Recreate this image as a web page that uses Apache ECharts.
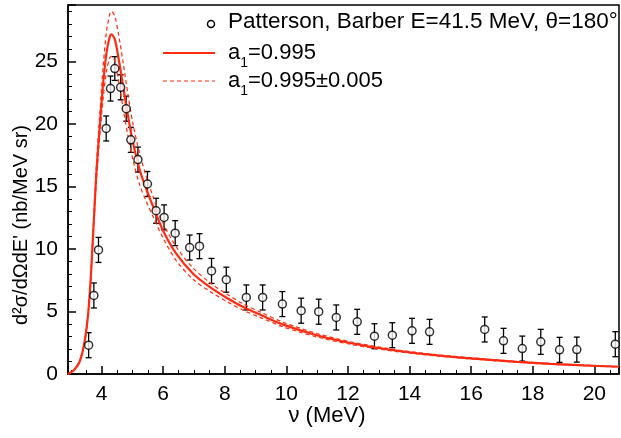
<!DOCTYPE html>
<html>
<head>
<meta charset="utf-8">
<script src="https://cdn.jsdelivr.net/npm/echarts@6/dist/echarts.min.js"></script>
<style>html,body{margin:0;padding:0;background:#fff}#c{width:621px;height:438px}</style>
</head>
<body>
<div id="c"></div>
<script>
// ---- data ----
const xTicks = [4, 6, 8, 10, 12, 14, 16, 18, 20];
const yTicks = [0, 5, 10, 15, 20, 25];

const dataX = [3.58, 3.75, 3.90, 4.15, 4.29, 4.43, 4.62, 4.80, 4.95, 5.18, 5.49, 5.77, 6.03, 6.39, 6.86, 7.18,
               7.57, 8.05, 8.70, 9.23, 9.87, 10.48, 11.05, 11.62, 12.30, 12.86, 13.44, 14.08, 14.65,
               16.44, 17.05, 17.66, 18.26, 18.87, 19.43, 20.68];
const dataY = [2.30, 6.28, 9.92, 19.63, 22.82, 24.42, 22.92, 21.21, 18.72, 17.14, 15.19, 13.05, 12.52, 11.26, 10.11, 10.22,
               8.24, 7.54, 6.12, 6.12, 5.59, 5.06, 4.98, 4.52, 4.17, 3.02, 3.10, 3.45, 3.37,
               3.56, 2.65, 2.03, 2.57, 1.93, 1.95, 2.38];
const dataErr = [1.0, 1.0, 1.0, 1.0, 1.0, 0.95, 1.0, 1.0, 1.0, 1.0, 1.0, 1.0, 1.0, 1.0, 1.0, 1.0,
                 1.0, 1.0, 1.0, 1.0, 1.0, 1.0, 1.0, 1.0, 1.0, 1.0, 1.0, 1.0, 1.0,
                 1.0, 1.0, 1.0, 1.0, 1.0, 1.0, 1.0];

const curveX = [2.91, 3.10, 3.29, 3.45, 3.56, 3.64, 3.70, 3.76, 3.83, 3.94, 4.05, 4.16, 4.27, 4.32, 4.43, 4.54,
                4.70, 4.86, 5.02, 5.24, 5.45, 5.67, 5.99, 6.43, 6.98, 7.52, 8.06, 8.60, 9.14, 9.90,
                10.99, 12.07, 13.15, 14.24, 15.32, 16.41, 17.49, 18.57, 19.66, 20.80];
const curveMid = [0, 0.3, 1.0, 2.6, 4.7, 7.3, 10.0, 12.8, 16.0, 19.8, 23.2, 25.7, 27.0, 27.15, 26.75, 25.4,
                  23.0, 20.6, 18.5, 16.3, 14.8, 13.4, 11.5, 9.6, 8.0, 6.95, 6.1, 5.35, 4.75, 3.95,
                  3.1, 2.48, 2.02, 1.66, 1.39, 1.17, 0.97, 0.81, 0.69, 0.58];
const curveUp = [0, 0.3, 1.0, 2.6, 4.7, 7.4, 10.2, 13.2, 16.6, 20.7, 24.5, 27.4, 28.8, 29.0, 28.6, 27.3,
                 24.9, 22.3, 20.0, 17.6, 15.8, 14.2, 12.1, 10.15, 8.45, 7.3, 6.4, 5.6, 4.97, 4.13,
                 3.24, 2.58, 2.1, 1.72, 1.44, 1.21, 1.0, 0.84, 0.71, 0.6];
const curveLow = [0, 0.3, 1.0, 2.6, 4.7, 7.2, 9.8, 12.4, 15.4, 19.0, 22.0, 24.2, 25.3, 25.4, 25.0, 23.6,
                  21.2, 19.0, 17.1, 15.1, 13.8, 12.6, 10.9, 9.05, 7.55, 6.6, 5.8, 5.1, 4.53, 3.77,
                  2.96, 2.38, 1.94, 1.6, 1.34, 1.13, 0.94, 0.78, 0.67, 0.56];

const legendData = 'Patterson, Barber E=41.5 MeV, θ=180°';
const legendMid = '0.995';
const legendBand = '0.995±0.005';
const xTitle = 'ν (MeV)';
const yTitle = "d²σ/dΩdE' (nb/MeV sr)";

// ---- chart ----
const FONT = "'Liberation Sans', Arial, Helvetica, sans-serif";
const RED = '#ff2a10';
const FS = 21;
const LFS = 22.5;
const chart = echarts.init(document.getElementById('c'), null, {renderer: 'canvas'});

const pts = dataX.map((x, i) => [x, dataY[i]]);
const errs = dataX.map((x, i) => [x, dataY[i] - dataErr[i], dataY[i] + dataErr[i]]);
const zip = (ys) => curveX.map((x, i) => [x, ys[i]]);

const subText = (v) => '{a|a}{s|1}{a|=' + v + '}';
const richSub = {
  a: {fontSize: 22, fontFamily: FONT, color: '#000', verticalAlign: 'middle', lineHeight: 34},
  s: {fontSize: 14, fontFamily: FONT, color: '#000', verticalAlign: 'bottom', lineHeight: 34}
};

chart.setOption({
  animation: false,
  backgroundColor: '#fff',
  grid: {left: 68, right: 2, top: 5, bottom: 64, show: true, borderColor: '#000', borderWidth: 1.5, backgroundColor: 'transparent'},
  xAxis: {
    type: 'value', min: 2.91, max: 20.8, splitNumber: 9,
    axisLine: {lineStyle: {color: '#000', width: 1.5}},
    axisTick: {inside: true, length: 8, lineStyle: {color: '#000', width: 1.5}},
    minorTick: {show: true, splitNumber: 4, length: 4, lineStyle: {color: '#000', width: 1}},
    splitLine: {show: false},
    axisLabel: {showMinLabel: false, showMaxLabel: false, fontSize: FS, fontFamily: FONT, color: '#000', margin: 10,
      formatter: (v) => xTicks.indexOf(Math.round(v * 1000) / 1000) >= 0 ? String(v) : ''}
  },
  yAxis: {
    type: 'value', min: 0, max: 29.5, interval: 5,
    axisLine: {lineStyle: {color: '#000', width: 1.5}},
    axisTick: {inside: true, length: 8, lineStyle: {color: '#000', width: 1.5}},
    minorTick: {show: true, splitNumber: 5, length: 4, lineStyle: {color: '#000', width: 1}},
    splitLine: {show: false},
    axisLabel: {showMaxLabel: false, fontSize: FS, fontFamily: FONT, color: '#000', margin: 10,
      formatter: (v) => yTicks.indexOf(v) >= 0 ? String(v) : ''}
  },
  series: [
    {
      type: 'custom', name: 'err', z: 2,
      data: errs,
      renderItem: function (params, api) {
        const x = api.value(0);
        const lo = api.coord([x, api.value(1)]);
        const hi = api.coord([x, api.value(2)]);
        const w = 3;
        return {
          type: 'group',
          children: [
            {type: 'line', shape: {x1: lo[0], y1: lo[1], x2: hi[0], y2: hi[1]}, style: {stroke: '#000', lineWidth: 1.3}},
            {type: 'line', shape: {x1: lo[0] - w, y1: lo[1], x2: lo[0] + w, y2: lo[1]}, style: {stroke: '#000', lineWidth: 1.3}},
            {type: 'line', shape: {x1: hi[0] - w, y1: hi[1], x2: hi[0] + w, y2: hi[1]}, style: {stroke: '#000', lineWidth: 1.3}}
          ]
        };
      }
    },
    {type: 'line', name: 'up', data: zip(curveUp), showSymbol: false, smooth: 0.3, z: 3,
     lineStyle: {color: RED, width: 1.2, type: [4, 3]}},
    {type: 'line', name: 'low', data: zip(curveLow), showSymbol: false, smooth: 0.3, z: 3,
     lineStyle: {color: RED, width: 1.2, type: [4, 3]}},
    {type: 'line', name: 'mid', data: zip(curveMid), showSymbol: false, smooth: 0.3, z: 4,
     lineStyle: {color: RED, width: 2.2}},
    {type: 'scatter', name: 'data', data: pts, symbol: 'circle', symbolSize: 8, z: 5,
     itemStyle: {color: '#fff', borderColor: '#000', borderWidth: 1.5}}
  ],
  graphic: [
    {type: 'circle', shape: {cx: 211, cy: 24, r: 3.5}, style: {fill: '#fff', stroke: '#000', lineWidth: 1.5}, z: 10},
    {type: 'text', style: {x: 228, y: 22, text: legendData, fontSize: LFS, fontFamily: FONT, fill: '#000', textVerticalAlign: 'middle'}, z: 10},
    {type: 'line', shape: {x1: 163, y1: 53, x2: 215, y2: 53}, style: {stroke: RED, lineWidth: 2}, z: 10},
    {type: 'text', style: {x: 228, y: 53, text: subText(legendMid), rich: richSub, textVerticalAlign: 'middle'}, z: 10},
    {type: 'line', shape: {x1: 163, y1: 81, x2: 215, y2: 81}, style: {stroke: RED, lineWidth: 1.2, lineDash: [4, 3]}, z: 10},
    {type: 'text', style: {x: 228, y: 81, text: subText(legendBand), rich: richSub, textVerticalAlign: 'middle'}, z: 10},
    {type: 'text', style: {x: 327, y: 416, text: xTitle, fontSize: 22, fontFamily: FONT, fill: '#000', textAlign: 'center', textVerticalAlign: 'middle'}, z: 10},
    {type: 'text', x: 21, y: 225, rotation: Math.PI / 2, style: {x: 0, y: 0, text: yTitle, fontSize: 20, fontFamily: FONT, fill: '#000', textAlign: 'center', textVerticalAlign: 'middle'}, z: 10}
  ]
});
</script>
</body>
</html>
